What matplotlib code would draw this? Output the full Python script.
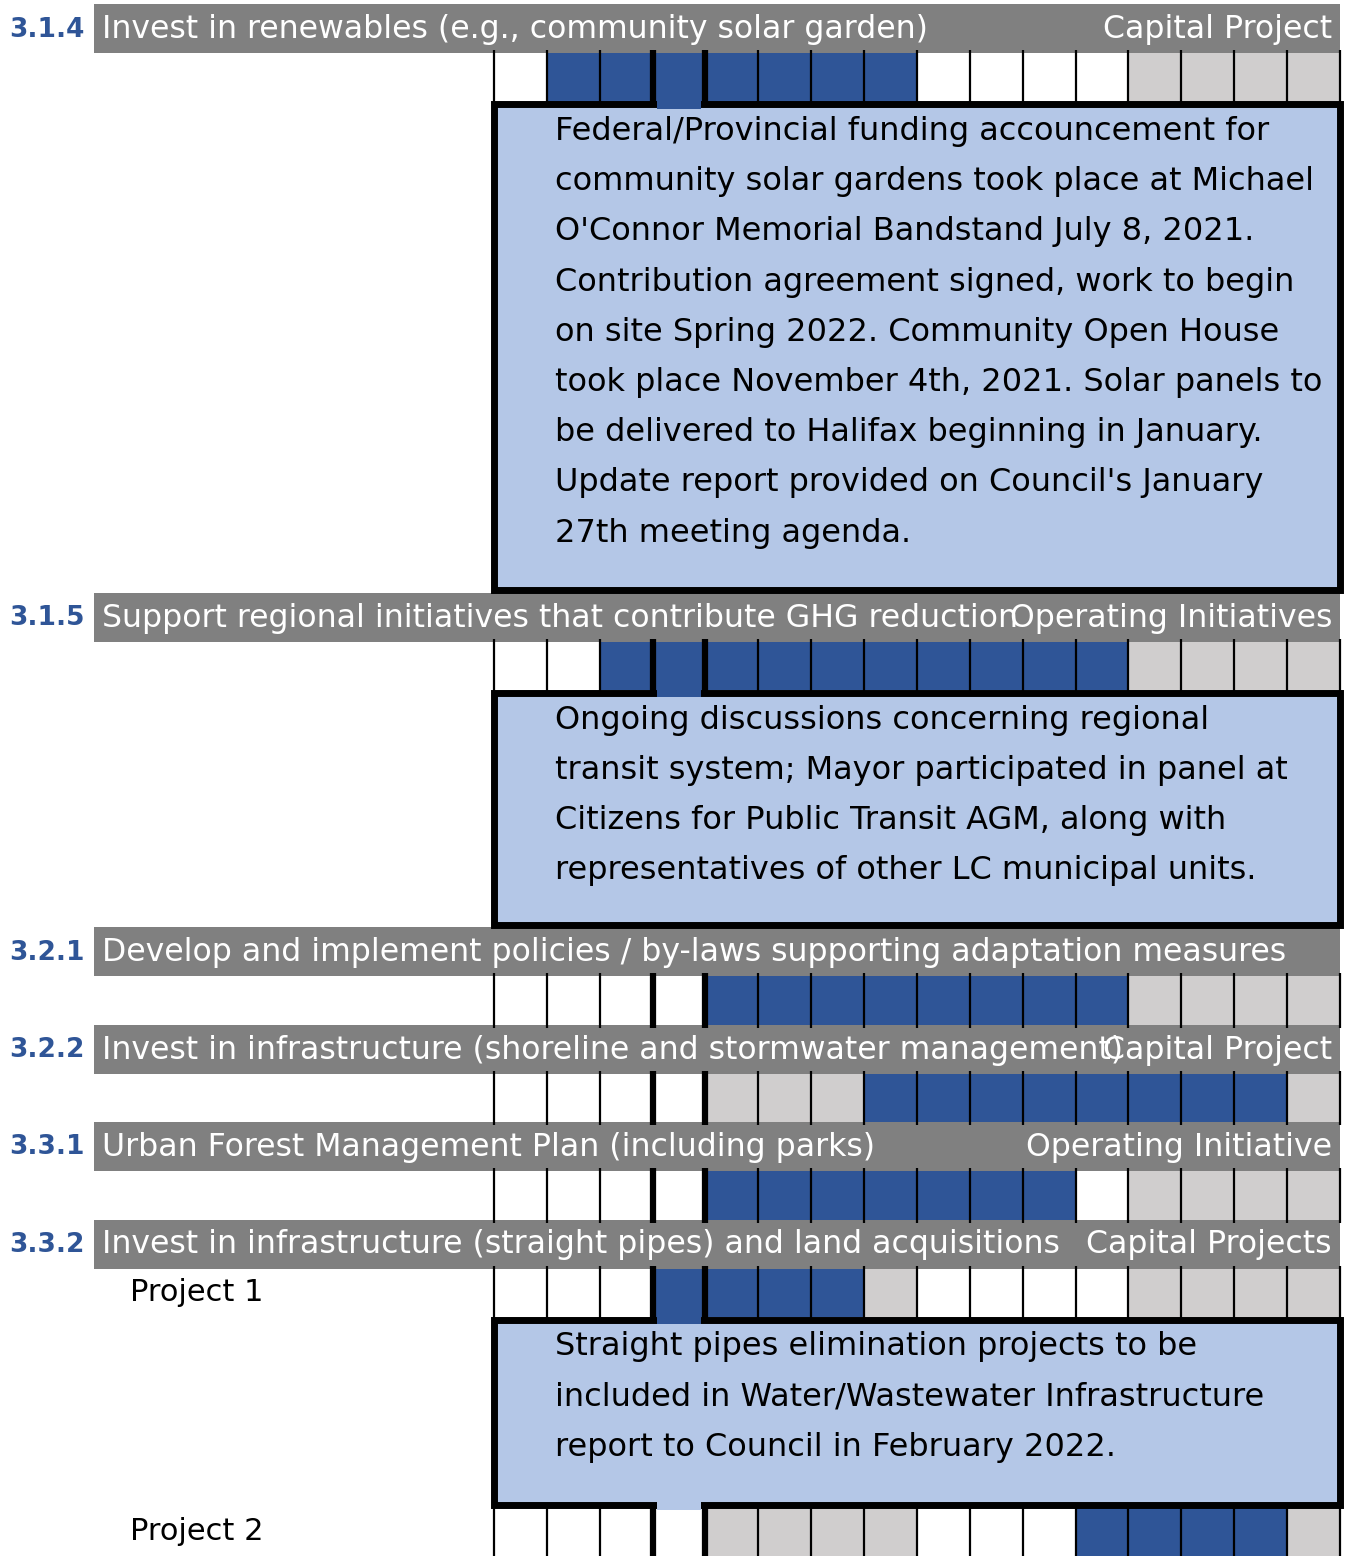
import numpy as np
import matplotlib.pyplot as plt
from matplotlib.patches import Rectangle

plt.rcParams['font.family'] = ['DejaVu Sans']

# ---- data -------------------------------------------------------------
ids = ['3.1.4', '3.1.5', '3.2.1', '3.2.2', '3.3.1', '3.3.2']
titles = ['Invest in renewables (e.g., community solar garden)',
          'Support regional initiatives that contribute GHG reduction',
          'Develop and implement policies / by-laws supporting adaptation measures',
          'Invest in infrastructure (shoreline and stormwater management)',
          'Urban Forest Management Plan (including parks)',
          'Invest in infrastructure (straight pipes) and land acquisitions']
kinds = ['Capital Project', 'Operating Initiatives', '', 'Capital Project',
         'Operating Initiative', 'Capital Projects']

# one letter per month column: w = not planned, b = active, g = future
status_314 = list('wbbbbbbbwwwwgggg')
status_315 = list('wwbbbbbbbbbbgggg')
status_321 = list('wwwwbbbbbbbbgggg')
status_322 = list('wwwwgggbbbbbbbbg')
status_331 = list('wwwwbbbbbbbwgggg')
status_p1 = list('wwwbbbbgwwwwgggg')
status_p2 = list('wwwwggggwwwbbbbg')

notes_314 = ['Federal/Provincial funding accouncement for',
             'community solar gardens took place at Michael',
             "O'Connor Memorial Bandstand July 8, 2021.",
             'Contribution agreement signed, work to begin',
             'on site Spring 2022. Community Open House',
             'took place November 4th, 2021. Solar panels to',
             'be delivered to Halifax beginning in January.',
             "Update report provided on Council's January",
             '27th meeting agenda.']
notes_315 = ['Ongoing discussions concerning regional',
             'transit system; Mayor participated in panel at',
             'Citizens for Public Transit AGM, along with',
             'representatives of other LC municipal units.']
notes_332 = ['Straight pipes elimination projects to be',
             'included in Water/Wastewater Infrastructure',
             'report to Council in February 2022.']

CUR = 3  # current month column
colors = {'w': 'white', 'b': '#2F5597', 'g': '#D0CECE'}
BOX_BG = '#B4C7E7'
HEAD_BG = '#808080'

# ---- layout (pixels, y down) -------------------------------------------
W, H = 1347, 1556
X0, X1 = 494, 1340
NCOL = 16
CW = (X1 - X0) / NCOL


def c(px):
    return (px - X0) / CW


blocks = [('head', 0), ('cells', status_314, ''), ('box', notes_314, 491),
          ('head', 1), ('cells', status_315, ''), ('box', notes_315, 237),
          ('head', 2), ('cells', status_321, ''),
          ('head', 3), ('cells', status_322, ''),
          ('head', 4), ('cells', status_331, ''),
          ('head', 5), ('cells', status_p1, 'Project 1'), ('box', notes_332, 190),
          ('cells', status_p2, 'Project 2')]

HEAD_H = 49
CELL_H = 48.5
FS_HEAD = 22.7
FS_NOTE = 23
FS_ID = 19

fig = plt.figure(figsize=(W / 100, H / 100), dpi=100)
ax = fig.add_axes([0, 0, 1, 1])
ax.set_xlim(c(0), c(W))
ax.set_ylim(H, 0)
ax.axis('off')

cols = np.arange(NCOL)
y = 4
prev_status = None
for i, blk in enumerate(blocks):
    kind = blk[0]
    if kind == 'head':
        k = blk[1]
        ax.add_patch(Rectangle((c(94), y), c(X1) - c(94), HEAD_H,
                               facecolor=HEAD_BG, edgecolor='none'))
        ym = y + HEAD_H / 2 + 1
        ax.text(c(9), ym, ids[k], color='#2F5597', fontsize=FS_ID,
                fontweight='bold', va='center', ha='left')
        ax.text(c(102), ym, titles[k], color='white', fontsize=FS_HEAD,
                va='center', ha='left')
        if kinds[k]:
            ax.text(c(1332), ym, kinds[k], color='white', fontsize=FS_HEAD,
                    va='center', ha='right')
        y += HEAD_H
    elif kind == 'cells':
        st = blk[1]
        ax.bar(cols + 0.5, CELL_H, width=1, bottom=y,
               color=[colors[s] for s in st], edgecolor='none')
        lw = [1.6] * (NCOL + 1)
        lw[CUR] = lw[CUR + 1] = 4.5
        for j in range(NCOL + 1):
            ax.vlines(j, y - 3, y + CELL_H + 3, color='black', lw=lw[j],
                      zorder=4)
        if blk[2]:
            ax.text(c(130), y + CELL_H / 2, blk[2], color='black',
                    fontsize=22, va='center', ha='left')
        prev_status = st
        y += CELL_H
    else:
        lines, h = blk[1], blk[2]
        ax.add_patch(Rectangle((0, y + 2.5), NCOL, h - 5, facecolor=BOX_BG,
                               edgecolor='black', lw=5, zorder=3))
        # gap in the border where the current month column runs through
        ax.bar(CUR + 0.5, 8, width=0.84, bottom=y - 1,
               color=colors[prev_status[CUR]], zorder=5)
        nxt = blocks[i + 1] if i + 1 < len(blocks) else None
        if nxt is not None and nxt[0] == 'cells':
            ax.bar(CUR + 0.5, 9, width=0.84, bottom=y + h - 6,
                   color=BOX_BG, zorder=5)
        for n, line in enumerate(lines):
            ax.text(c(555), y + 30 + n * 50.2, line, color='black',
                    fontsize=FS_NOTE, va='center', ha='left', zorder=6)
        y += h

fig.savefig('out.png', dpi=100)
